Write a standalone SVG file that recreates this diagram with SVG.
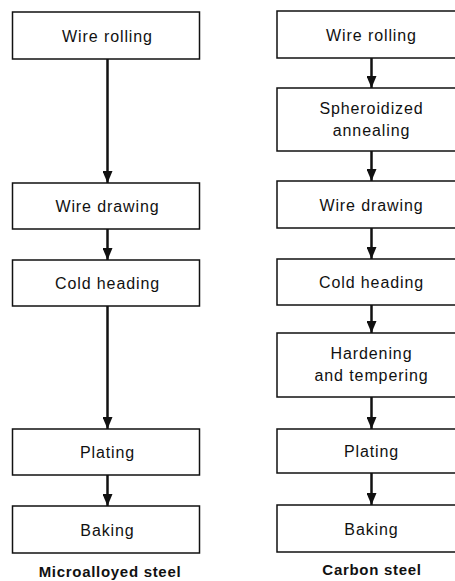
<svg xmlns="http://www.w3.org/2000/svg" width="455" height="581" viewBox="0 0 455 581">
<style>
.box{fill:#fff;stroke:#111;stroke-width:1.5}
.t{font-family:"Liberation Sans",Arial,sans-serif;font-size:16px;letter-spacing:0.9px;fill:#111;text-anchor:middle}
.lab{font-family:"Liberation Sans",Arial,sans-serif;font-size:15px;font-weight:bold;letter-spacing:0.7px;fill:#111;text-anchor:middle}
.c{stroke:#111;stroke-width:2.5;fill:none;marker-end:url(#ah)}
</style>
<defs>
<marker id="ah" markerUnits="userSpaceOnUse" viewBox="0 0 12 10" refX="12" refY="5" markerWidth="12" markerHeight="10" orient="auto">
<path d="M0,0 L12,5 L0,10 Z" fill="#111"/>
</marker>
</defs>
<g id="connectors">
<path class="c" d="M107.5,59 V183"/>
<path class="c" d="M107.5,229 V260"/>
<path class="c" d="M107.5,306 V429"/>
<path class="c" d="M107.5,475 V506"/>
<path class="c" d="M371.5,58 V88"/>
<path class="c" d="M371.5,151 V181"/>
<path class="c" d="M371.5,228 V259"/>
<path class="c" d="M371.5,305 V333"/>
<path class="c" d="M371.5,397 V429"/>
<path class="c" d="M371.5,473 V505"/>
</g>
<g id="L1"><rect class="box" x="12.5" y="12" width="187" height="47"/><text class="t" x="107.5" y="41.5">Wire rolling</text></g>
<g id="L2"><rect class="box" x="12.5" y="183" width="187" height="46"/><text class="t" x="107.5" y="212">Wire drawing</text></g>
<g id="L3"><rect class="box" x="12.5" y="260" width="187" height="46"/><text class="t" x="107.5" y="289">Cold heading</text></g>
<g id="L4"><rect class="box" x="12.5" y="429" width="187" height="46"/><text class="t" x="107.5" y="458">Plating</text></g>
<g id="L5"><rect class="box" x="12.5" y="506" width="187" height="47"/><text class="t" x="107.5" y="535.5">Baking</text></g>
<g id="R1"><rect class="box" x="277" y="11" width="190" height="47"/><text class="t" x="371.5" y="40.5">Wire rolling</text></g>
<g id="R2"><rect class="box" x="277" y="88" width="190" height="63"/><text class="t" x="371.5" y="113.5">Spheroidized</text><text class="t" x="371.5" y="135.5">annealing</text></g>
<g id="R3"><rect class="box" x="277" y="181" width="190" height="47"/><text class="t" x="371.5" y="210.5">Wire drawing</text></g>
<g id="R4"><rect class="box" x="277" y="259" width="190" height="46"/><text class="t" x="371.5" y="288">Cold heading</text></g>
<g id="R5"><rect class="box" x="277" y="333" width="190" height="64"/><text class="t" x="371.5" y="358.5">Hardening</text><text class="t" x="371.5" y="380.5">and tempering</text></g>
<g id="R6"><rect class="box" x="277" y="429" width="190" height="44"/><text class="t" x="371.5" y="457">Plating</text></g>
<g id="R7"><rect class="box" x="277" y="505" width="190" height="47"/><text class="t" x="371.5" y="534.5">Baking</text></g>
<g id="labels">
<text class="lab" x="110" y="577">Microalloyed steel</text>
<text class="lab" x="372" y="575">Carbon steel</text>
</g>
</svg>
